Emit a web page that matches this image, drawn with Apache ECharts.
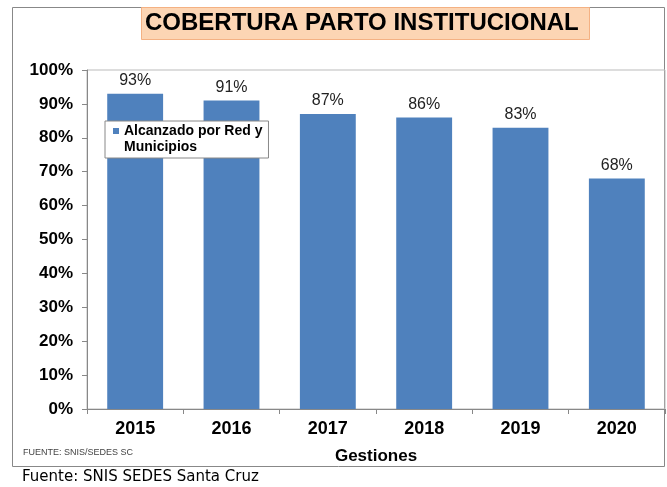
<!DOCTYPE html>
<html>
<head>
<meta charset="utf-8">
<script src="https://cdn.jsdelivr.net/npm/echarts@6/dist/echarts.min.js"></script>
<style>
  html, body { margin: 0; padding: 0; background: #fff; }
  #chart { width: 667px; height: 487px; }
</style>
</head>
<body>
<div id="chart"></div>
<script>
// datos
var gestiones = ['2015', '2016', '2017', '2018', '2019', '2020'];
var cobertura = [93, 91, 87, 86, 83, 68];
var serieNombre = 'Alcanzado por Red y\nMunicipios';

var chart = echarts.init(document.getElementById('chart'));

var option = {
    animation: false,
    title: {
        text: 'COBERTURA PARTO INSTITUCIONAL',
        left: 141,
        top: 7,
        padding: [4, 11, 5, 4],
        backgroundColor: '#fcd5b4',
        borderColor: '#f4b183',
        borderWidth: 1,
        textStyle: {
            fontFamily: 'Liberation Sans',
            fontSize: 24,
            fontWeight: 'bold',
            color: '#000'
        }
    },
    legend: {
        left: 105,
        top: 121,
        orient: 'vertical',
        icon: 'rect',
        itemWidth: 6,
        itemHeight: 6,
        itemGap: 0,
        // linea vacia arriba para que el marcador quede en la primera linea
        formatter: function (n) { return ' \n' + n; },
        padding: [-14, 6, 3, 8],
        backgroundColor: '#fff',
        borderColor: '#888',
        borderWidth: 1,
        textStyle: {
            fontFamily: 'Liberation Sans',
            fontSize: 14,
            fontWeight: 'bold',
            color: '#000',
            lineHeight: 16
        },
        data: [serieNombre]
    },
    grid: {
        left: 87,
        right: 2,
        top: 70,
        bottom: 78,
        show: true,
        borderColor: '#bbb',
        borderWidth: 1
    },
    xAxis: {
        type: 'category',
        data: gestiones,
        name: 'Gestiones',
        nameLocation: 'middle',
        nameGap: 39,
        nameTextStyle: {
            fontFamily: 'Liberation Sans',
            fontSize: 17,
            fontWeight: 'bold',
            color: '#000'
        },
        axisLine: { lineStyle: { color: '#888' } },
        axisTick: { show: true, length: 5, lineStyle: { color: '#888' } },
        axisLabel: {
            margin: 11,
            fontFamily: 'Liberation Sans',
            fontSize: 18,
            fontWeight: 'bold',
            color: '#000'
        }
    },
    yAxis: {
        type: 'value',
        min: 0,
        max: 100,
        interval: 10,
        axisLine: { show: true, lineStyle: { color: '#888' } },
        axisTick: { show: true, length: 5, lineStyle: { color: '#888' } },
        splitLine: { show: false },
        axisLabel: {
            formatter: '{value}%',
            margin: 14,
            fontFamily: 'Liberation Sans',
            fontSize: 17,
            fontWeight: 'bold',
            color: '#000'
        }
    },
    series: [{
        name: serieNombre,
        type: 'bar',
        data: cobertura,
        barWidth: '58%',
        itemStyle: { color: '#4f81bd' },
        label: {
            show: true,
            position: 'top',
            distance: 5,
            formatter: '{c}%',
            fontFamily: 'Liberation Sans',
            fontSize: 16,
            color: '#222'
        }
    }],
    graphic: [
        {
            type: 'rect',
            shape: { x: 12.5, y: 7.5, width: 652, height: 459 },
            style: { fill: 'none', stroke: '#888', lineWidth: 1 },
            z: -10
        },
        {
            type: 'text',
            left: 23,
            top: 448,
            style: {
                text: 'FUENTE: SNIS/SEDES SC',
                font: '9px "Liberation Sans Narrow", "Liberation Sans"',
                fill: '#444'
            }
        },
        {
            type: 'text',
            left: 22,
            top: 470,
            style: {
                text: 'Fuente: SNIS SEDES Santa Cruz',
                font: '15px "DejaVu Sans"',
                fill: '#000'
            }
        }
    ]
};

chart.setOption(option);
</script>
</body>
</html>
